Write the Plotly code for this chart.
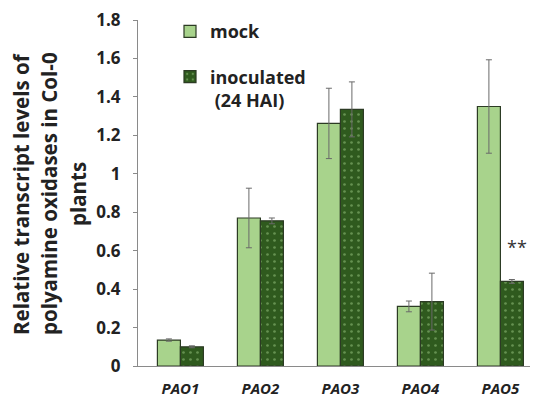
import plotly.graph_objects as go

genes = ["PAO1", "PAO2", "PAO3", "PAO4", "PAO5"]
mock = [0.135, 0.77, 1.262, 0.31, 1.35]
mock_err = [0.006, 0.155, 0.183, 0.028, 0.243]
inoc = [0.10, 0.755, 1.335, 0.335, 0.44]
inoc_err = [0.005, 0.015, 0.143, 0.148, 0.01]
yticks = [0, 0.2, 0.4, 0.6, 0.8, 1, 1.2, 1.4, 1.6, 1.8]
ytick_text = ["0", "0.2", "0.4", "0.6", "0.8", "1", "1.2", "1.4", "1.6", "1.8"]
sig_gene = "PAO5"
sig_value = 0.62
sig_text = "**"
y_title_lines = ["Relative transcript levels of", "polyamine oxidases in Col-0", "plants"]

FONT = "Open Sans"
LIGHT = "#a8d38c"
DARK = "#2f5a1e"
EDGE = "#2c3b24"

fig = go.Figure()
fig.add_trace(go.Bar(
    x=genes, y=mock, name="mock", legendgroup="a",
    marker=dict(color=LIGHT, line=dict(color=EDGE, width=1.2)),
    error_y=dict(type="data", array=mock_err, color="#6a6a6a", thickness=1, width=3),
))
fig.add_trace(go.Bar(
    x=genes, y=inoc, name="inoculated<br> (24 HAI)", legendgroup="b",
    marker=dict(color=DARK, line=dict(color=EDGE, width=1.2),
                pattern=dict(shape=".", fgcolor="#9cc884", bgcolor=DARK, size=7, solidity=0.12)),
    error_y=dict(type="data", array=inoc_err, color="#6a6a6a", thickness=1, width=3),
))

fig.add_annotation(x=sig_gene, y=sig_value, text=sig_text, showarrow=False,
                   xshift=17, font=dict(family=FONT, size=18, color="#333"))

xs = [-117, -89, -60]
for line, xs_ in zip(y_title_lines, xs):
    fig.add_annotation(xref="paper", yref="paper", x=0, y=0.5, xshift=xs_, yshift=-1,
                       text=line, textangle=-90, showarrow=False,
                       xanchor="center", yanchor="middle",
                       font=dict(family=FONT, size=20.5, color="#222", weight="bold"))

fig.update_layout(
    width=530, height=390,
    margin=dict(l=130, r=0, t=12, b=32),
    paper_bgcolor="white", plot_bgcolor="white",
    barmode="group", bargap=0.425, bargroupgap=0,
    font=dict(family=FONT, color="#222"),
    showlegend=True,
    legend=dict(x=0.08, y=1.02, xanchor="left", yanchor="top",
                traceorder="grouped", tracegroupgap=19, valign="top",
                bgcolor="rgba(0,0,0,0)",
                font=dict(family=FONT, size=18, color="#222", weight="bold")),
)
fig.update_xaxes(range=[-0.53, 4.47], showline=True, linecolor="#8a8a8a", linewidth=1,
                 ticks="", showgrid=False, ticklabelstandoff=9, automargin=False,
                 ticklabeloverflow="allow",
                 tickfont=dict(family=FONT, size=15, color="#222", style="italic", weight="bold"))
fig.update_yaxes(range=[0, 1.8], tickvals=yticks, ticktext=ytick_text,
                 showline=True, linecolor="#8a8a8a", linewidth=1,
                 ticks="outside", ticklen=4, tickcolor="#8a8a8a", showgrid=False,
                 zeroline=False, ticklabelstandoff=9, ticklabeloverflow="allow",
                 automargin=False,
                 tickfont=dict(family=FONT, size=17, color="#222", weight="bold"))

fig.write_html("out.html")
